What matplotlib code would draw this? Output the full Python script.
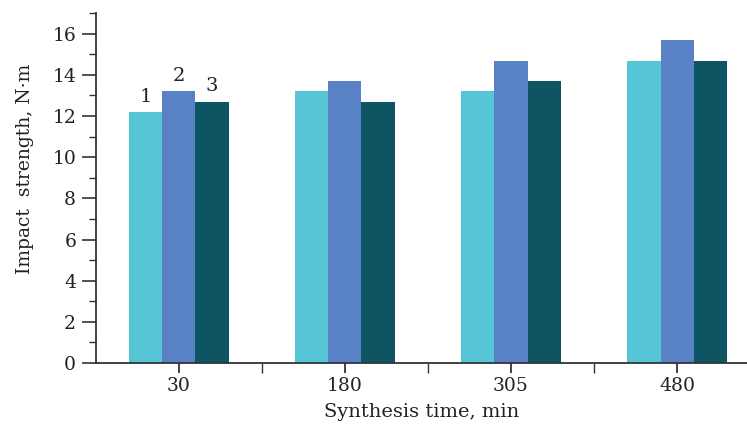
import matplotlib.pyplot as plt
import numpy as np
from matplotlib.ticker import MultipleLocator, FixedLocator

times = ['30', '180', '305', '480']
series1 = [12.2, 13.2, 13.2, 14.7]
series2 = [13.2, 13.7, 14.7, 15.7]
series3 = [12.7, 12.7, 13.7, 14.7]
bar_names = ['1', '2', '3']

colors = ['#56C5D5', '#5981C5', '#0E5563']

plt.rcParams['font.family'] = 'DejaVu Serif'
plt.rcParams['text.color'] = '#222222'
plt.rcParams['axes.labelcolor'] = '#222222'

fig = plt.figure(figsize=(7.47, 4.26), dpi=100)
ax = fig.add_axes([0.128, 0.148, 0.872, 0.821])

x = np.arange(len(times))
w = 0.2
for i, vals in enumerate([series1, series2, series3]):
    ax.bar(x + (i - 1) * w, vals, width=w, color=colors[i], linewidth=0)
    # numbers over the first group only
    ax.text(x[0] + (i - 1) * w, vals[0] + 0.3, bar_names[i], ha='center', va='bottom',
            fontsize=14)

ax.set_xlim(-0.5, 3.42)
ax.set_ylim(0, 17)
ax.xaxis.set_major_locator(FixedLocator(x))
ax.set_xticklabels(times)
ax.xaxis.set_minor_locator(FixedLocator([0.5, 1.5, 2.5]))
ax.yaxis.set_major_locator(MultipleLocator(2))
ax.yaxis.set_minor_locator(MultipleLocator(1))

for s in ['top', 'right']:
    ax.spines[s].set_visible(False)
for s in ['left', 'bottom']:
    ax.spines[s].set_linewidth(1.3)
    ax.spines[s].set_color('#333333')

ax.tick_params(axis='y', which='major', length=10, width=1.2, color='#333333',
               labelcolor='#222222', labelsize=13.5, pad=4)
ax.tick_params(axis='y', which='minor', length=5, width=1.0, color='#333333')
ax.tick_params(axis='x', which='major', length=7, width=1.3, color='#333333',
               labelcolor='#222222', labelsize=13.5, pad=3)
ax.tick_params(axis='x', which='minor', length=7, width=1.0, color='#333333')

ax.set_xlabel('Synthesis time, min', fontsize=14, labelpad=6)
ax.set_ylabel('Impact  strength, N·m', fontsize=13.5)
ax.yaxis.set_label_coords(-0.095, 0.555)

fig.savefig('out.png', dpi=100)
